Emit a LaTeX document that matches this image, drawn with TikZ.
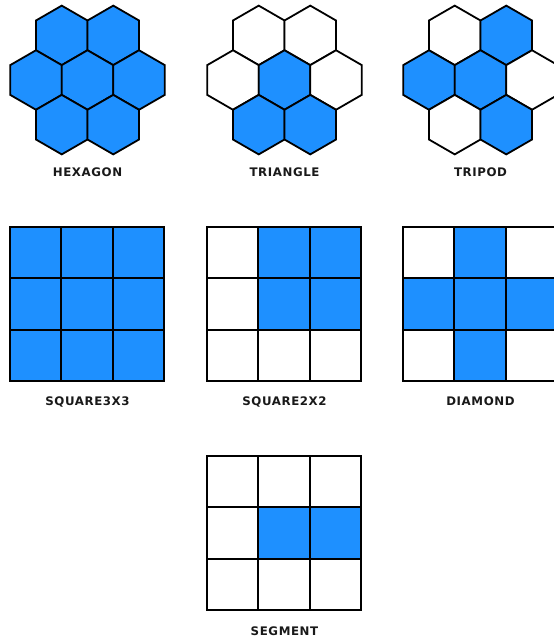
\documentclass[tikz,border=0pt]{standalone}
\usepackage{fontspec}
\newfontfamily\lblfont[LetterSpace=5]{DejaVu Sans}
\definecolor{cellblue}{HTML}{1E90FF}
\newcommand{\hexR}{29.75}
\newcommand{\cellS}{51.33}
\newcommand{\hexat}[3]{%
  \filldraw[cellline, fill=#3] (#1,#2) +(30:\hexR) -- +(90:\hexR) -- +(150:\hexR) -- +(210:\hexR) -- +(270:\hexR) -- +(330:\hexR) -- cycle;}
% cluster: cx, cy, fills: TL TR L C R BL BR
\newcommand{\hexcluster}[9]{%
  \pgfmathsetmacro{\hw}{sqrt(3)*\hexR}%
  \pgfmathsetmacro{\hv}{1.5*\hexR}%
  \hexat{#1-\hw/2}{#2-\hv}{#3}
  \hexat{#1+\hw/2}{#2-\hv}{#4}
  \hexat{#1-\hw}{#2}{#5}
  \hexat{#1}{#2}{#6}
  \hexat{#1+\hw}{#2}{#7}
  \hexat{#1-\hw/2}{#2+\hv}{#8}
  \hexat{#1+\hw/2}{#2+\hv}{#9}}
\newcommand{\sqcell}[3]{%
  \filldraw[cellline, fill=#3] (#1,#2) rectangle ++(\cellS,\cellS);}
\newcommand{\sqrow}[5]{%
  \sqcell{#1}{#2}{#3}\sqcell{#1+\cellS}{#2}{#4}\sqcell{#1+2*\cellS}{#2}{#5}}
\tikzset{
  cellline/.style={draw=black, line width=1.8pt, line join=miter},
  lbl/.style={font=\lblfont\bfseries\fontsize{11.8}{13}\selectfont, text=black!90, inner sep=0pt}
}
\begin{document}
\begin{tikzpicture}[x=1pt,y=-1pt]
\useasboundingbox[fill=white] (0,0) rectangle (554,641);
% hexagon clusters
\hexcluster{87.5}{80}{cellblue}{cellblue}{cellblue}{cellblue}{cellblue}{cellblue}{cellblue}
\hexcluster{284.5}{80}{white}{white}{white}{cellblue}{white}{cellblue}{cellblue}
\hexcluster{480.5}{80}{white}{cellblue}{cellblue}{cellblue}{white}{white}{cellblue}
\node[lbl] (lhex) at (87.5,172.3) {HEXAGON};
\node[lbl] (ltri) at (284.5,172.3) {TRIANGLE};
\node[lbl] (ltrp) at (480.5,172.3) {TRIPOD};
% square grids
\sqrow{10}{227}{cellblue}{cellblue}{cellblue}
\sqrow{10}{227+\cellS}{cellblue}{cellblue}{cellblue}
\sqrow{10}{227+2*\cellS}{cellblue}{cellblue}{cellblue}
\sqrow{207}{227}{white}{cellblue}{cellblue}
\sqrow{207}{227+\cellS}{white}{cellblue}{cellblue}
\sqrow{207}{227+2*\cellS}{white}{white}{white}
\sqrow{403}{227}{white}{cellblue}{white}
\sqrow{403}{227+\cellS}{cellblue}{cellblue}{cellblue}
\sqrow{403}{227+2*\cellS}{white}{cellblue}{white}
\node[lbl] (lsq3) at (87.5,401.5) {SQUARE3X3};
\node[lbl] (lsq2) at (284.5,401.5) {SQUARE2X2};
\node[lbl] (ldia) at (480.5,401.5) {DIAMOND};
\sqrow{207}{456}{white}{white}{white}
\sqrow{207}{456+\cellS}{white}{cellblue}{cellblue}
\sqrow{207}{456+2*\cellS}{white}{white}{white}
\node[lbl] (lseg) at (284.5,631) {SEGMENT};
\end{tikzpicture}
\end{document}
